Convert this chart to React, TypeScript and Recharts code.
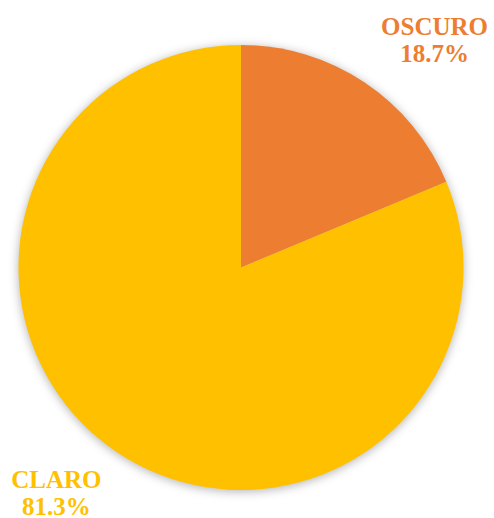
import React from "react";
import { PieChart, Pie, Cell } from "recharts";

const categories = ["OSCURO", "CLARO"];
const values = [18.7, 81.3];
const colors = ["#ED7D31", "#FFC000"];

const data = categories.map((name, i) => ({ name, value: values[i] }));
const shadowData = [{ name: "shadow", value: 1 }];

const renderLabel = (props: any) => {
  const { cx, cy, outerRadius, index } = props;
  const name = categories[index];
  const pct = values[index].toFixed(1) + "%";
  let x: number;
  let y: number;
  if (index === 0) {
    x = cx + outerRadius * 0.87;
    y = cy - outerRadius * 1.047;
  } else {
    x = cx - outerRadius * 0.83;
    y = cy + outerRadius * 0.99;
  }
  return (
    <text
      x={x}
      y={y}
      textAnchor="middle"
      fill={colors[index]}
      fontFamily="'Liberation Serif', 'DejaVu Serif', serif"
      fontWeight="bold"
      fontSize={25}
    >
      <tspan x={x} dy={0}>{name}</tspan>
      <tspan x={x} dy={27.5}>{pct}</tspan>
    </text>
  );
};

export default function App() {
  return (
    <div style={{ position: "absolute", left: 0, top: 0, width: 494, height: 518, background: "#fff" }}>
      <svg width={0} height={0} style={{ position: "absolute" }}>
        <defs>
          <filter id="pieShadow" x="-20%" y="-20%" width="140%" height="140%">
            <feGaussianBlur stdDeviation="5" />
          </filter>
        </defs>
      </svg>
      <PieChart width={494} height={518} margin={{ top: 0, right: 0, bottom: 0, left: 0 }}>
        <Pie
          data={shadowData}
          dataKey="value"
          cx={241}
          cy={269}
          outerRadius={223}
          startAngle={90}
          endAngle={-270}
          stroke="none"
          isAnimationActive={false}
          label={false}
          labelLine={false}
        >
          <Cell fill="rgba(0,0,0,0.28)" filter="url(#pieShadow)" />
        </Pie>
        <Pie
          data={data}
          dataKey="value"
          cx={241}
          cy={267.5}
          outerRadius={222.5}
          startAngle={90}
          endAngle={-270}
          stroke="none"
          isAnimationActive={false}
          label={renderLabel}
          labelLine={false}
        >
          {data.map((d, i) => (
            <Cell key={d.name} fill={colors[i]} />
          ))}
        </Pie>
      </PieChart>
    </div>
  );
}
